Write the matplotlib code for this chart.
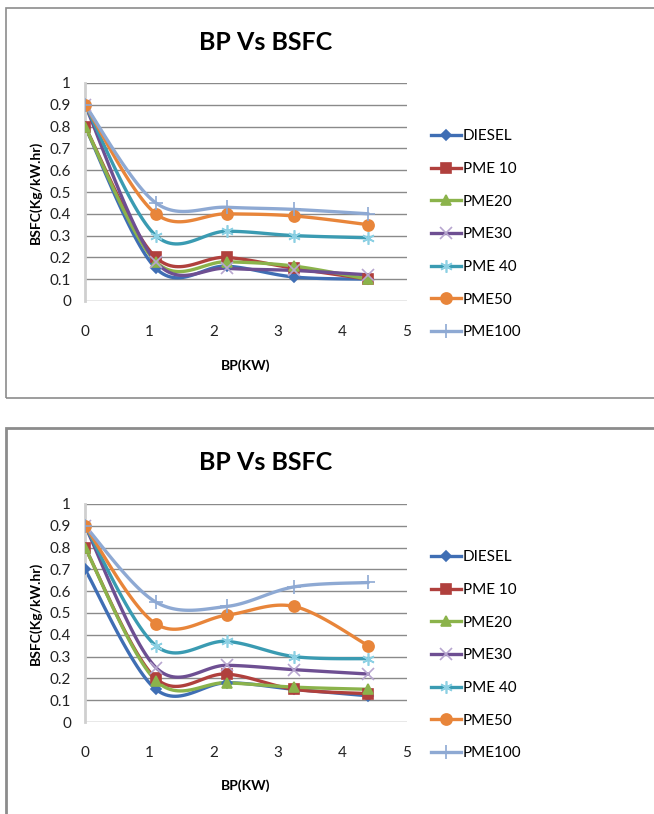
import numpy as np
import matplotlib
matplotlib.use("Agg")
import matplotlib.pyplot as plt
from matplotlib.lines import Line2D
from matplotlib.patches import Rectangle

plt.rcParams['font.family'] = ['Lato', 'DejaVu Sans']

bp = [0, 1.1, 2.2, 3.25, 4.4]
names = ["DIESEL", "PME 10", "PME20", "PME30", "PME 40", "PME50", "PME100"]

# chart 1 (top)
top_vals = {
    "DIESEL": [0.80, 0.15, 0.16, 0.11, 0.10],
    "PME 10": [0.80, 0.20, 0.20, 0.15, 0.10],
    "PME20":  [0.80, 0.18, 0.18, 0.16, 0.10],
    "PME30":  [0.90, 0.18, 0.15, 0.14, 0.12],
    "PME 40": [0.90, 0.30, 0.32, 0.30, 0.29],
    "PME50":  [0.90, 0.40, 0.40, 0.39, 0.35],
    "PME100": [0.90, 0.45, 0.43, 0.42, 0.40],
}
# chart 2 (bottom)
bot_vals = {
    "DIESEL": [0.70, 0.15, 0.18, 0.15, 0.12],
    "PME 10": [0.80, 0.20, 0.22, 0.15, 0.13],
    "PME20":  [0.80, 0.19, 0.18, 0.16, 0.15],
    "PME30":  [0.90, 0.25, 0.26, 0.24, 0.22],
    "PME 40": [0.90, 0.35, 0.37, 0.30, 0.29],
    "PME50":  [0.90, 0.45, 0.49, 0.53, 0.35],
    "PME100": [0.90, 0.55, 0.53, 0.62, 0.64],
}

line_col = ["#3F6EB4", "#B0403D", "#8BB34B", "#6E4F92", "#3A9BB2", "#E8853A", "#8EA9D3"]
mark_col = ["#3F6EB4", "#B0403D", "#8BB34B", "#B7A6CF", "#8CD0E3", "#E8853A", "#8EA9D3"]
markers = ["D", "s", "^", "x", (6, 2, 0), "o", "+"]
msizes = [5, 7.5, 7, 8, 9, 8, 10]


def smooth(x, y, n=30):
    # excel style smoothed line (catmull-rom bezier)
    x = np.asarray(x, float)
    y = np.asarray(y, float)
    px, py = [], []
    for i in range(len(x) - 1):
        i0 = max(i - 1, 0)
        i3 = min(i + 2, len(x) - 1)
        c1 = (x[i] + (x[i + 1] - x[i0]) / 6, y[i] + (y[i + 1] - y[i0]) / 6)
        c2 = (x[i + 1] - (x[i3] - x[i]) / 6, y[i + 1] - (y[i3] - y[i]) / 6)
        t = np.linspace(0, 1, n)
        a = (1 - t) ** 3
        b = 3 * (1 - t) ** 2 * t
        c = 3 * (1 - t) * t ** 2
        d = t ** 3
        px.extend(a * x[i] + b * c1[0] + c * c2[0] + d * x[i + 1])
        py.extend(a * y[i] + b * c1[1] + c * c2[1] + d * y[i + 1])
    return px, py


fig = plt.figure(figsize=(6.54, 8.14), dpi=100)
W, H = 654, 814

# outer boxes
fig.patches.append(Rectangle((6 / W, 1 - 398 / H), 660 / W, 390 / H, transform=fig.transFigure,
                             fill=False, edgecolor="#8c8c8c", linewidth=1.2))
fig.patches.append(Rectangle((6 / W, -0.01), 660 / W, 1 - 428 / H + 0.01, transform=fig.transFigure,
                             fill=False, edgecolor="#8c8c8c", linewidth=2))


def draw(vals, top_px, title_px, xlab_px):
    ax = fig.add_axes([85 / W, 1 - (top_px + 218) / H, 322 / W, 218 / H])
    for i, nm in enumerate(names):
        sx, sy = smooth(bp, vals[nm])
        ax.plot(sx, sy, color=line_col[i], lw=2.4, solid_capstyle="round", zorder=2)
        ax.plot(bp, vals[nm], linestyle="none", marker=markers[i], ms=msizes[i],
                color=mark_col[i], mew=1.2, zorder=3)
    ax.set_xlim(0, 5)
    ax.set_ylim(0, 1)
    ax.set_yticks(np.arange(0, 1.01, 0.1))
    ax.set_yticklabels(["0", "0.1", "0.2", "0.3", "0.4", "0.5", "0.6", "0.7", "0.8", "0.9", "1"])
    ax.set_xticks([0, 1, 2, 3, 4, 5])
    ax.grid(axis="y", color="#8a8a8a", lw=1)
    ax.set_axisbelow(True)
    for s in ["top", "right", "bottom"]:
        ax.spines[s].set_visible(False)
    ax.spines["left"].set_color("#cfcfcf")
    ax.spines["left"].set_linewidth(2)
    ax.tick_params(length=0, labelsize=11, colors="#222222")
    ax.tick_params(axis="x", pad=17)
    ax.tick_params(axis="y", pad=10)
    fig.text(266 / W, 1 - title_px / H, "BP Vs BSFC", ha="center", va="center",
             fontsize=18, fontweight="bold")
    fig.text(36 / W, 1 - (top_px + 109) / H, "BSFC(Kg/kW.hr)", ha="center", va="center",
             rotation=90, fontsize=10, fontweight="bold")
    fig.text(246 / W, 1 - xlab_px / H, "BP(KW)", ha="center", va="center",
             fontsize=10, fontweight="bold")
    handles = [Line2D([], [], color=line_col[i], lw=2.4, marker=markers[i], ms=msizes[i],
                      markerfacecolor=mark_col[i], markeredgecolor=mark_col[i], mew=1.2)
               for i in range(len(names))]
    ax.legend(handles, names, loc="upper left", bbox_to_anchor=(1.055, 0.815), frameon=False,
              fontsize=11, handlelength=2.0, handletextpad=0.1, labelspacing=1.22,
              borderaxespad=0)
    return ax


draw(top_vals, 83, 42, 366)
draw(bot_vals, 504, 463, 786)

fig.savefig("out.png", dpi=100)
